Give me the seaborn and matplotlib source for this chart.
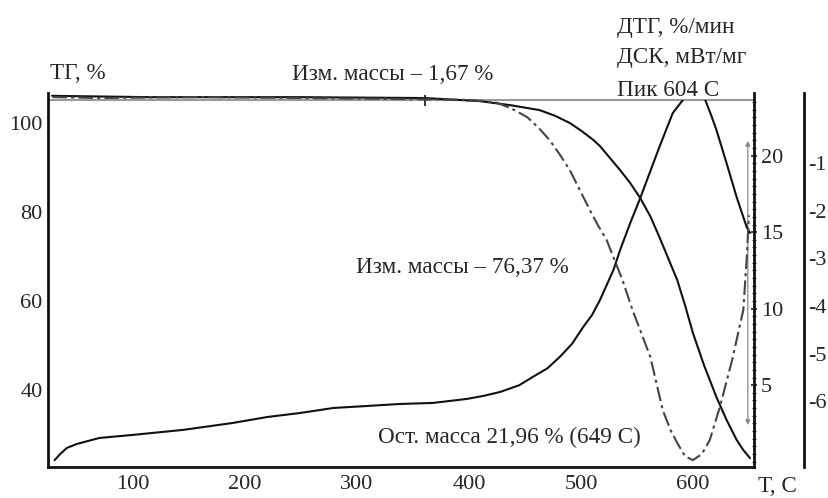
import numpy as np
import matplotlib
matplotlib.use("Agg")
import matplotlib.pyplot as plt
from matplotlib.patches import Rectangle
import seaborn as sns

# ТГ (масса, %)
tg_t = [27.7, 115, 249, 361, 410, 437, 463, 477, 490, 500, 511, 517, 535, 544, 553, 562, 570, 586, 593,
        600, 610, 621, 630, 639, 645, 651]
tg_v = [106.1, 105.8, 105.8, 105.6, 104.9, 104.0, 102.9, 101.6, 100.0, 98.3, 96.2, 94.8, 89.4, 86.5, 83.1, 79.0,
        74.4, 64.7, 59.0, 52.8, 45.5, 38.4, 33.3, 28.8, 26.5, 24.7]

# ДСК, мВт/мг
dsc_t = [30, 35, 41, 50, 70, 100, 145, 189, 220, 249, 279, 309, 338, 368, 398, 413, 428, 445, 457, 470, 481,
         492, 502, 510, 517, 529, 535, 544, 553, 562, 570, 582, 591, 596, 601, 606, 611, 616, 621, 630, 639,
         644, 648, 651]
dsc_v = [0.1, 0.5, 0.9, 1.16, 1.55, 1.75, 2.08, 2.53, 2.92, 3.18, 3.51, 3.64, 3.77, 3.84, 4.10, 4.30, 4.56, 5.0,
         5.54, 6.1, 6.84, 7.7, 8.80, 9.6, 10.57, 12.53, 13.84, 15.6, 17.24, 19.0, 20.56, 22.79, 23.64, 24.29,
         24.55, 24.42, 23.64, 22.7, 21.68, 19.52, 17.30, 16.2, 15.34, 14.95]

# ДТГ, %/мин
dtg_t = [28, 70, 160, 249, 338, 401, 425, 438, 452, 462, 472, 481, 490, 508, 515, 523, 537, 546, 562, 573,
         580, 586, 593, 600, 608, 615, 624, 635, 645, 648, 650]
dtg_v = [0.38, 0.36, 0.38, 0.36, 0.34, 0.32, 0.26, 0.14, -0.04, -0.26, -0.52, -0.82, -1.15, -1.99, -2.3, -2.62,
         -3.45, -4.08, -5.07, -6.18, -6.6, -6.87, -7.15, -7.23, -7.1, -6.81, -6.12, -5.13, -4.08, -3.0, -2.1]

x_ticks = [100, 200, 300, 400, 500, 600]
tg_ticks = [40, 60, 80, 100]
dsc_ticks = [5, 10, 15, 20]
dtg_ticks = [-1, -2, -3, -4, -5, -6]

sns.set_style("white")
plt.rcParams['font.family'] = ['Liberation Serif', 'DejaVu Serif']
plt.rcParams['font.size'] = 16
plt.rcParams['axes.unicode_minus'] = False

fig, ax = plt.subplots(figsize=(8.29, 4.98), dpi=100)
fig.subplots_adjust(left=0.0579, right=0.9095, bottom=0.0622, top=0.8133)

# ТГ
sns.lineplot(x=tg_t, y=tg_v, ax=ax, color="#111111", linewidth=1.5, sort=False)
ax.axhline(105.17, color="#9a9a9a", linewidth=1.5, zorder=1)
ax.vlines(361, 103.8, 106.2, color="#111111", linewidth=1.2)
ax.annotate("", xy=(649, 31.5), xytext=(649, 96.6),
            arrowprops=dict(arrowstyle="<|-|>", color="#888888", lw=0.9, mutation_scale=7))
ax.set_xlim(24.1, 654.5)
ax.set_ylim(22.7, 106.74)
ax.set_xticks(x_ticks)
ax.set_xticks(np.arange(40, 654, 20), minor=True)
ax.set_yticks(tg_ticks)
ax.tick_params(axis="x", which="both", direction="inout", length=4, width=1.2, pad=4, color="#222222")
ax.tick_params(axis="y", length=0, pad=4)
for s in ["top", "right"]:
    ax.spines[s].set_visible(False)
for s in ["left", "bottom"]:
    ax.spines[s].set_color("#111111")
    ax.spines[s].set_linewidth(2)

# ДСК
ax_dsc = ax.twinx()
sns.lineplot(x=dsc_t, y=dsc_v, ax=ax_dsc, color="#111111", linewidth=1.5, sort=False)
clip = Rectangle((0, 0), 1, (467 - 100) / 374, transform=ax_dsc.transAxes, visible=False)
ax_dsc.add_patch(clip)
ax_dsc.get_lines()[-1].set_clip_path(clip)
ax_dsc.set_ylim(-0.35, 24.1)
ax_dsc.set_yticks(dsc_ticks)
ax_dsc.set_yticks(np.arange(0, 24, 0.5), minor=True)
ax_dsc.tick_params(axis="y", which="major", direction="inout", length=4, width=1.2, pad=3)
ax_dsc.tick_params(axis="y", which="minor", direction="inout", length=2.5, width=0.8)
for s in ["top", "left", "bottom"]:
    ax_dsc.spines[s].set_visible(False)
ax_dsc.spines["right"].set_color("#111111")
ax_dsc.spines["right"].set_linewidth(2)

# ДТГ
ax_dtg = ax.twinx()
sns.lineplot(x=dtg_t, y=dtg_v, ax=ax_dtg, color="#444444", linewidth=1.5, sort=False)
ax_dtg.get_lines()[-1].set_dashes((7, 2, 1.5, 2))
ax_dtg.set_ylim(-7.374, 0.466)
ax_dtg.set_yticks(dtg_ticks)
ax_dtg.spines["right"].set_position(("axes", 1.0708))
ax_dtg.tick_params(axis="y", length=0, pad=3)
for s in ["top", "left", "bottom"]:
    ax_dtg.spines[s].set_visible(False)
ax_dtg.spines["right"].set_color("#111111")
ax_dtg.spines["right"].set_linewidth(2)

# Подписи
fs = 16.7
fig.text(50 / 829, 1 - 79 / 498, "ТГ, %", ha="left", va="baseline", fontsize=fs)
fig.text(292 / 829, 1 - 80 / 498, "Изм. массы – 1,67 %", ha="left", va="baseline", fontsize=fs)
fig.text(617 / 829, 1 - 33 / 498, "ДТГ, %/мин", ha="left", va="baseline", fontsize=fs)
fig.text(617 / 829, 1 - 63 / 498, "ДСК, мВт/мг", ha="left", va="baseline", fontsize=fs)
fig.text(617 / 829, 1 - 96 / 498, "Пик 604 С", ha="left", va="baseline", fontsize=fs)
fig.text(356 / 829, 1 - 273 / 498, "Изм. массы – 76,37 %", ha="left", va="baseline", fontsize=fs)
fig.text(378 / 829, 1 - 443 / 498, "Ост. масса 21,96 % (649 С)", ha="left", va="baseline", fontsize=fs)
fig.text(758 / 829, 1 - 492 / 498, "Т, С", ha="left", va="baseline", fontsize=fs)

plt.savefig("out.png", dpi=100)
